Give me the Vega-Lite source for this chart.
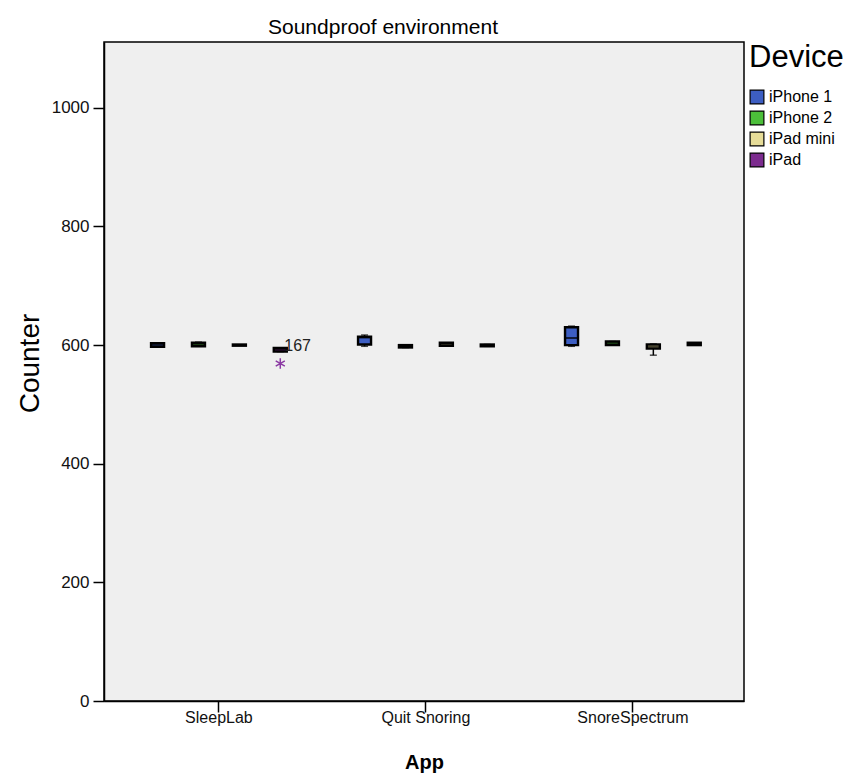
{
  "$schema": "https://vega.github.io/schema/vega-lite/v6.json",
  "autosize": {"type": "none"},
  "padding": {"left": 104, "top": 42, "right": 118, "bottom": 74},
  "width": 640,
  "height": 659,
  "background": "white",
  "title": {"text": "Soundproof environment", "fontSize": 21, "font": "Liberation Sans", "fontWeight": "normal", "color": "black", "anchor": "middle", "dx": -41, "offset": 4},
  "datasets": {
    "boxes": [
      {"App": "SleepLab", "Device": "iPhone 1", "min": 597, "q1": 597, "median": 600, "q3": 603, "max": 604},
      {"App": "SleepLab", "Device": "iPhone 2", "min": 598, "q1": 598, "median": 601, "q3": 604, "max": 605},
      {"App": "SleepLab", "Device": "iPad mini", "min": 600, "q1": 599, "median": 600, "q3": 601, "max": 600},
      {"App": "SleepLab", "Device": "iPad", "min": 589, "q1": 589, "median": 592, "q3": 595, "max": 595},
      {"App": "Quit Snoring", "Device": "iPhone 1", "min": 598, "q1": 601, "median": 613, "q3": 614, "max": 617},
      {"App": "Quit Snoring", "Device": "iPhone 2", "min": 596, "q1": 596, "median": 598, "q3": 600, "max": 600},
      {"App": "Quit Snoring", "Device": "iPad mini", "min": 599, "q1": 599, "median": 601, "q3": 604, "max": 604},
      {"App": "Quit Snoring", "Device": "iPad", "min": 598, "q1": 598, "median": 600, "q3": 601, "max": 601},
      {"App": "SnoreSpectrum", "Device": "iPhone 1", "min": 598, "q1": 600, "median": 612, "q3": 630, "max": 632},
      {"App": "SnoreSpectrum", "Device": "iPhone 2", "min": 600, "q1": 600, "median": 603, "q3": 606, "max": 606},
      {"App": "SnoreSpectrum", "Device": "iPad mini", "min": 583, "q1": 594, "median": 597, "q3": 601, "max": 602},
      {"App": "SnoreSpectrum", "Device": "iPad", "min": 600, "q1": 600, "median": 602, "q3": 604, "max": 604}
    ],
    "outliers": [
      {"App": "SleepLab", "Device": "iPad", "value": 569, "label": "167"}
    ]
  },
  "config": {
    "font": "Liberation Sans",
    "view": {"fill": "#efefef", "stroke": "black", "strokeWidth": 1.5},
    "axis": {"grid": false, "domainColor": "black", "domainWidth": 1.5, "tickColor": "black", "tickWidth": 1.5, "tickSize": 11, "labelColor": "#111", "titleColor": "black", "labelFont": "Liberation Sans", "titleFont": "Liberation Sans"},
    "legend": {"labelFont": "Liberation Sans", "titleFont": "Liberation Sans"}
  },
  "layer": [
    {
      "data": {"name": "boxes"},
      "mark": {"type": "rule", "color": "black", "strokeWidth": 1.5},
      "encoding": {
        "x": {"field": "App", "type": "nominal"},
        "xOffset": {"field": "Device", "type": "nominal"},
        "y": {"field": "min", "type": "quantitative"},
        "y2": {"field": "max"}
      }
    },
    {
      "data": {"name": "boxes"},
      "mark": {"type": "tick", "color": "black", "thickness": 1.5, "size": 7, "orient": "horizontal"},
      "encoding": {
        "x": {"field": "App", "type": "nominal"},
        "xOffset": {"field": "Device", "type": "nominal"},
        "y": {"field": "min", "type": "quantitative"}
      }
    },
    {
      "data": {"name": "boxes"},
      "mark": {"type": "tick", "color": "black", "thickness": 1.5, "size": 7, "orient": "horizontal"},
      "encoding": {
        "x": {"field": "App", "type": "nominal"},
        "xOffset": {"field": "Device", "type": "nominal"},
        "y": {"field": "max", "type": "quantitative"}
      }
    },
    {
      "data": {"name": "boxes"},
      "mark": {"type": "bar", "stroke": "black", "strokeWidth": 2.4, "size": 13, "opacity": 1},
      "encoding": {
        "x": {"field": "App", "type": "nominal",
          "scale": {"domain": ["SleepLab", "Quit Snoring", "SnoreSpectrum"], "paddingInner": 0, "paddingOuter": 0.046, "align": 0.6},
          "axis": {"labelAngle": 0, "labelAlign": "center", "labelFontSize": 16, "labelPadding": 5, "title": "App", "titleFontWeight": "bold", "titleFontSize": 20, "titleY": 51, "titleBaseline": "top"}},
        "xOffset": {"field": "Device", "type": "nominal",
          "scale": {"domain": ["iPhone 1", "iPhone 2", "iPad mini", "iPad"], "paddingInner": 0, "paddingOuter": 0.53}},
        "y": {"field": "q1", "type": "quantitative",
          "scale": {"domain": [0, 1111], "nice": false},
          "axis": {"values": [0, 200, 400, 600, 800, 1000], "format": "d", "labelFontSize": 17, "labelPadding": 4, "title": "Counter", "titleFontSize": 28, "titleFontWeight": "normal", "titleX": -66, "titleY": 321, "titleBaseline": "alphabetic", "titleAngle": 270}},
        "y2": {"field": "q3"},
        "color": {"field": "Device", "type": "nominal",
          "scale": {"domain": ["iPhone 1", "iPhone 2", "iPad mini", "iPad"], "range": ["#3d5ec2", "#4cbf3a", "#e6dc98", "#7c2b8e"]},
          "legend": {"orient": "none", "legendX": 645, "legendY": 1, "title": "Device", "titleFontSize": 31, "titleFontWeight": "normal", "titleColor": "black", "titlePadding": 15, "labelFontSize": 16, "labelColor": "black", "labelOffset": 4, "symbolType": "square", "symbolSize": 190, "symbolStrokeColor": "black", "symbolStrokeWidth": 1.2, "symbolOpacity": 1, "rowPadding": 1}}
      }
    },
    {
      "data": {"name": "boxes"},
      "mark": {"type": "tick", "color": "black", "thickness": 2, "size": 13, "orient": "horizontal"},
      "encoding": {
        "x": {"field": "App", "type": "nominal"},
        "xOffset": {"field": "Device", "type": "nominal"},
        "y": {"field": "median", "type": "quantitative"}
      }
    },
    {
      "data": {"name": "outliers"},
      "mark": {"type": "point", "shape": "M0,-1L0,1M-0.87,-0.5L0.87,0.5M-0.87,0.5L0.87,-0.5", "filled": false, "stroke": "#8b3aa3", "strokeWidth": 1.5, "size": 110, "opacity": 1},
      "encoding": {
        "x": {"field": "App", "type": "nominal"},
        "xOffset": {"field": "Device", "type": "nominal"},
        "y": {"field": "value", "type": "quantitative"}
      }
    },
    {
      "data": {"name": "outliers"},
      "mark": {"type": "text", "align": "left", "baseline": "middle", "dx": 4, "dy": -17, "fontSize": 16, "color": "#222"},
      "encoding": {
        "x": {"field": "App", "type": "nominal"},
        "xOffset": {"field": "Device", "type": "nominal"},
        "y": {"field": "value", "type": "quantitative"},
        "text": {"field": "label"}
      }
    }
  ]
}
